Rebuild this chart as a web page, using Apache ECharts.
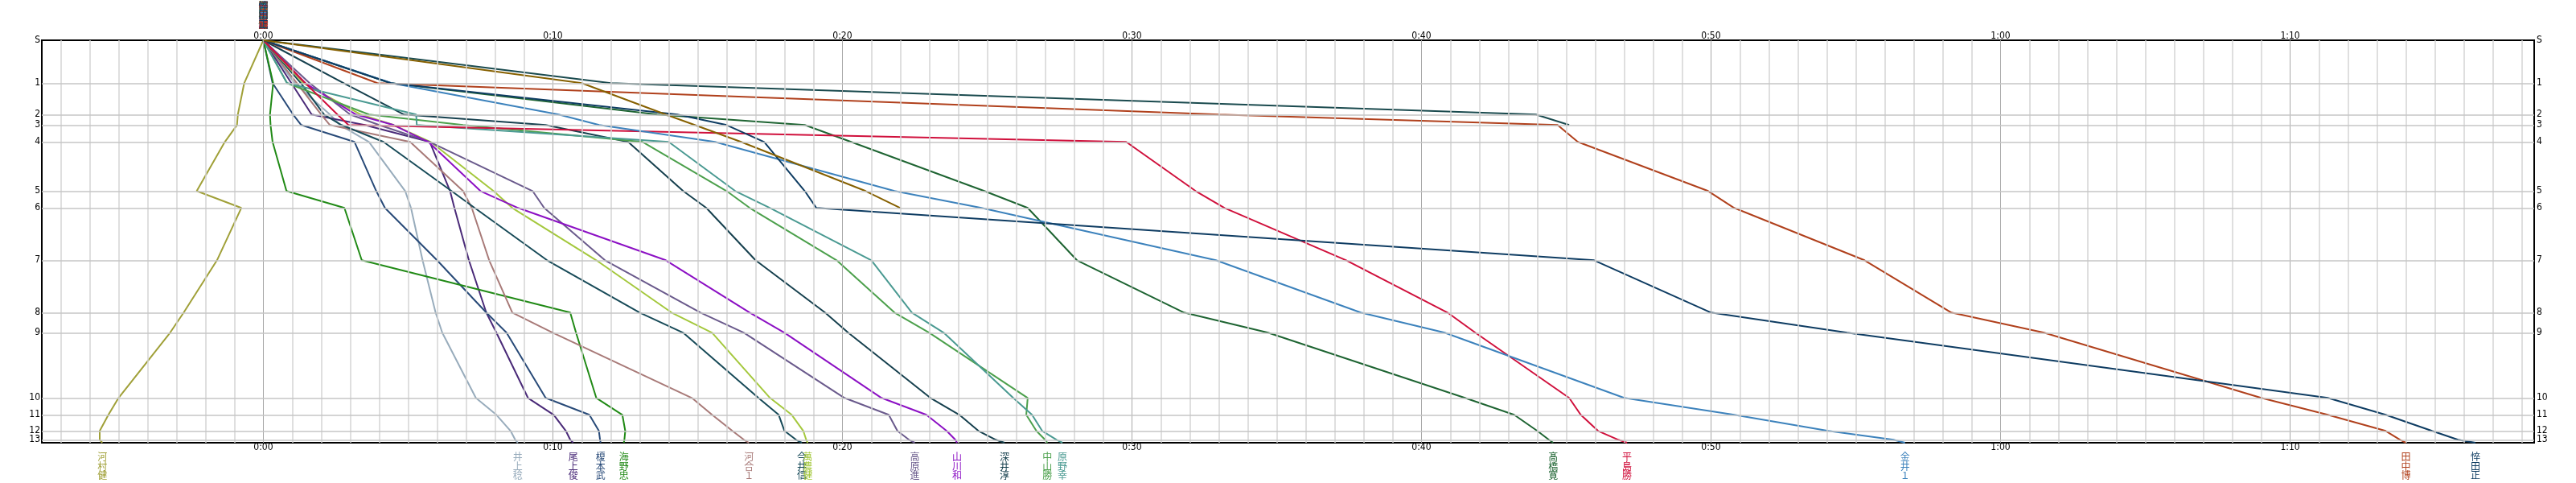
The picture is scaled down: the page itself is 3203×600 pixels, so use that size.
<!DOCTYPE html>
<html><head><meta charset="utf-8">
<script src="https://cdn.jsdelivr.net/npm/echarts@6/dist/echarts.min.js"></script>
<style>html,body{margin:0;padding:0;background:#fff}#c{width:3203px;height:600px}</style>
</head><body><div id="c"></div><script>
// ---- data ----
const controlNames = ['S','1','2','3','4','5','6','7','8','9','10','11','12','13','F'];
const controlPos = [0, 53.3, 92.3, 105.3, 126.3, 187.3, 208.3, 273.3, 338.3, 363.3, 444.3, 465.3, 485.3, 496.3, 500];
const timeTicks = [0, 10, 20, 30, 40, 50, 60, 70];
const minuteGrid = [-7,-6,-5,-4,-3,-2,-1,0,1,2,3,4,5,6,7,8,9,10,11,12,13,14,15,16,17,18,19,20,21,22,23,24,25,26,27,28,29,30,31,32,33,34,35,36,37,38,39,40,41,42,43,44,45,46,47,48,49,50,51,52,53,54,55,56,57,58,59,60,61,62,63,64,65,66,67,68,69,70,71,72,73,74,75,76,77,78];

const runnerNames = ['河村健','井上稔','尾上俊','榎本武','海野忠','河合１','今井信','萬農健','高原進','山川和','深井淳','中山勝','原野幸','髙橋寛','平島勝','金井１','田中博','悴田正','',''];

// time offset (minutes) at each control S..F
const kawamura = [0, -0.66, -0.88, -0.91, -1.33, -2.3, -0.76, -1.6, -2.75, -3.22, -5.0, -5.35, -5.65, -5.65, -5.56];
const inoue    = [0, 1.08, 2.3, 2.65, 3.65, 4.9, 5.1, 5.5, 5.95, 6.18, 7.34, 8.05, 8.54, 8.7, 8.79];
const onoue    = [0, 0.97, 1.67, 3.5, 5.75, 6.45, 6.6, 7.1, 7.7, 8.05, 9.14, 10.03, 10.45, 10.6, 10.7];
const enomoto  = [0, 0.32, 1.03, 1.31, 3.15, 3.9, 4.2, 6.0, 7.7, 8.4, 9.75, 11.26, 11.59, 11.63, 11.65];
const unno     = [0, 0.34, 0.23, 0.25, 0.32, 0.8, 2.8, 3.4, 10.6, 10.8, 11.5, 12.4, 12.5, 12.47, 12.45];
const kawai    = [0, 1.16, 2.0, 2.3, 5.07, 6.9, 7.2, 7.8, 8.6, 10.0, 14.8, 15.5, 16.2, 16.6, 16.77];
const imai     = [0, 1.3, 2.1, 2.7, 4.15, 6.5, 7.3, 9.8, 13.0, 14.5, 17.1, 17.8, 18.0, 18.4, 18.6];
const tsuta    = [0, 1.39, 3.37, 4.5, 5.78, 7.95, 8.6, 11.5, 14.1, 15.5, 17.5, 18.25, 18.65, 18.75, 18.8];
const takahara = [0, 1.6, 3.0, 4.0, 5.75, 9.3, 9.7, 11.8, 15.1, 16.6, 20.07, 21.6, 21.9, 22.3, 22.5];
const yamakawa = [0, 1.45, 3.2, 4.5, 5.7, 7.5, 8.8, 13.9, 16.8, 18.0, 21.35, 22.9, 23.6, 23.9, 23.96];
const fukai    = [0, 2.78, 4.86, 9.75, 12.6, 14.5, 15.3, 17.0, 19.4, 20.2, 23.04, 24.04, 24.7, 25.3, 25.6];
const nakayama = [0, 0.82, 3.65, 6.9, 13.1, 16.0, 16.8, 19.8, 21.8, 23.0, 26.4, 26.35, 26.7, 27.0, 27.08];
const harano   = [0, 0.82, 5.28, 5.3, 14.0, 16.3, 17.5, 21.0, 22.4, 23.5, 25.9, 26.55, 26.9, 27.4, 27.6];
const takahashi= [0, 4.4, 13.6, 18.7, 20.3, 24.9, 26.4, 28.1, 31.8, 34.7, 41.5, 43.2, 44.0, 44.4, 44.55];
const hirashima= [0, 1.45, 2.56, 2.94, 29.8, 32.2, 33.2, 37.4, 40.9, 41.86, 45.1, 45.5, 46.1, 46.8, 47.1];
const kanai    = [0, 4.43, 10.2, 11.6, 15.6, 21.8, 24.8, 32.9, 37.9, 40.8, 47.0, 50.8, 54.05, 56.3, 56.7];
const tanaka   = [0, 3.94, 33.0, 44.7, 45.4, 49.9, 50.8, 55.3, 58.3, 61.5, 69.0, 71.3, 73.3, 73.8, 74.0];
const kaseda   = [0, 4.4, 14.3, 16.0, 17.3, 18.7, 19.1, 45.96, 50.0, 54.7, 71.3, 73.3, 74.9, 75.8, 76.4];
const dnfA     = [0, 12.0, 43.95, 45.1];
const dnfB     = [0, 11.0, 13.9, 14.9, 16.5, 20.8, 22.0];

const runnerTimes = [kawamura, inoue, onoue, enomoto, unno, kawai, imai, tsuta, takahara, yamakawa, fukai, nakayama, harano, takahashi, hirashima, kanai, tanaka, kaseda, dnfA, dnfB];

// ---- styles ----
const colors = ['#a0a038','#98acbc','#4a2a78','#284a78','#218a16','#a87a78','#174a58','#a4c83c','#6a5a8c','#8c10c4','#16404e','#4ca04c','#4a9a92','#1e6432','#d0103c','#3c82bc','#b0401c','#0e3c62','#1a4a4e','#866000'];
const XMIN = -7.65, XMAX = 78.43;
const FONT = '"Liberation Sans Narrow","DejaVu Sans Condensed","Liberation Sans",sans-serif';
const CJK = '"Noto Sans CJK JP",sans-serif';

function fmtTime(v){ const h = Math.floor(v/60), m = Math.round(v - h*60); return h + ':' + (m<10?'0':'') + m; }
function ctlName(v){ const i = controlPos.findIndex(p => Math.abs(p - v) < 0.01); return i >= 0 ? controlNames[i] : ''; }
const vert = s => s.split('').join('\n');

const chart = echarts.init(document.getElementById('c'), null, {renderer:'canvas'});

const gridSeries = {
  type: 'line', data: [], silent: true, z: 1, animation: false,
  markLine: {
    silent: true, symbol: ['none','none'], animation: false, label: {show:false},
    data: minuteGrid.map(m => ({xAxis: m, lineStyle: {color: m % 10 === 0 ? '#a8a8a8' : '#d4d4d4', width: m % 10 === 0 ? 1 : 1.5, type:'solid'}}))
      .concat(controlPos.slice(1, -1).map(p => ({yAxis: p, lineStyle: {color:'#c6c6c6', width:1.5, type:'solid'}})))
  }
};

const runnerSeries = runnerTimes.map((arr, k) => {
  const finished = arr.length === controlPos.length;
  const s = {
    type: 'line', name: runnerNames[k] || ('dnf' + k), z: 3, animation: false,
    data: arr.map((t, i) => [t, controlPos[i]]),
    showSymbol: false, symbol: 'none',
    lineStyle: {width: 2, color: colors[k]}, itemStyle: {color: colors[k]},
    emphasis: {disabled: true}
  };
  const mp = [];
  if (finished && runnerNames[k]) {
    mp.push({coord: [arr[arr.length-1], 500], label: {position: 'bottom', distance: 12}});
  }
  if (runnerNames[k]) {
    mp.push({coord: [0, 0], label: {position: 'top', distance: 14}});
  }
  s.markPoint = {
    symbol: 'circle', symbolSize: 0, silent: true, animation: false,
    label: {show: true, formatter: vert(runnerNames[k]), color: colors[k], fontSize: 12, lineHeight: 11.5, fontFamily: CJK},
    data: mp
  };
  return s;
});

const xAxisBase = {
  type: 'value', min: XMIN, max: XMAX,
  axisLine: {show:false}, axisTick: {show:false}, splitLine: {show:false},
  axisLabel: {customValues: timeTicks, formatter: fmtTime, color:'#000', fontSize: 12, fontFamily: FONT, margin: 0}
};
const yAxisBase = {
  type: 'value', min: 0, max: 500, inverse: true,
  axisLine: {show:false}, axisTick: {show:false}, splitLine: {show:false},
  axisLabel: {customValues: controlPos, formatter: ctlName, color:'#000', fontSize: 12, fontFamily: FONT, margin: 2}
};

chart.setOption({
  backgroundColor: '#fff',
  animation: false,
  grid: {left: 52, right: 52, top: 50, bottom: 50, show: true, borderColor: '#000', borderWidth: 2, backgroundColor: 'transparent'},
  xAxis: [Object.assign({}, xAxisBase, {position:'top', axisLabel: Object.assign({}, xAxisBase.axisLabel, {margin: -1})}),
          Object.assign({}, xAxisBase, {position:'bottom'})],
  yAxis: [Object.assign({}, yAxisBase, {position:'left'}), Object.assign({}, yAxisBase, {position:'right', axisLabel: Object.assign({}, yAxisBase.axisLabel, {margin: 3})})],
  series: [gridSeries].concat(runnerSeries)
});
</script></body></html>
